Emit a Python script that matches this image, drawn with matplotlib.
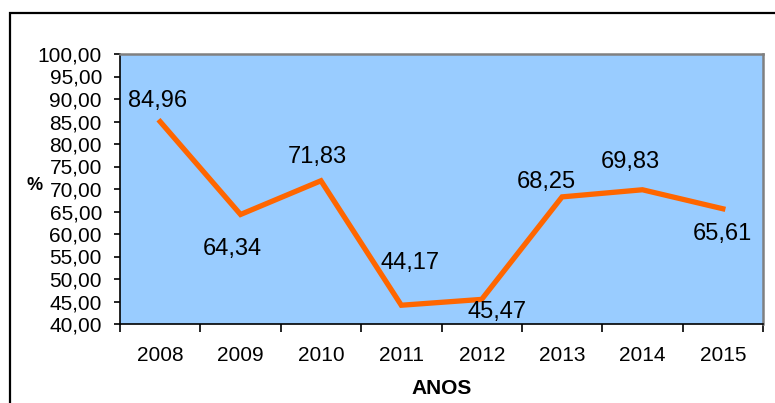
import matplotlib
matplotlib.use("Agg")
import matplotlib.pyplot as plt
from matplotlib.patches import Rectangle
from matplotlib.ticker import FuncFormatter, FixedLocator

plt.rcParams['font.family'] = ['Liberation Sans', 'DejaVu Sans']

# data
anos = ['2008', '2009', '2010', '2011', '2012', '2013', '2014', '2015']
valores = [84.96, 64.34, 71.83, 44.17, 45.47, 68.25, 69.83, 65.61]
yticks = list(range(40, 101, 5))

# label offsets in pixels (dx, dy), y up
offsets = [(-3, 21), (-8, -35), (-4, 24), (9, 42), (15, -13), (-16, 15), (-12, 28), (0, -25)]

fig = plt.figure(figsize=(7.75, 4.03), dpi=100)
ax = fig.add_axes([120/775, 1 - 324/403, 643/775, 270/403])
ax.set_facecolor('#99CCFF')

x = list(range(len(anos)))
ax.plot(x, valores, color='#FF6600', lw=3.8, solid_joinstyle='miter')

for xi, v, (dx, dy) in zip(x, valores, offsets):
    ax.annotate(f"{v:.2f}".replace('.', ','), (xi, v), xytext=(dx, dy),
                textcoords='offset pixels', ha='center', va='center',
                fontsize=17, color='black')

ax.set_xlim(-0.5, len(anos) - 0.5)
ax.set_ylim(40, 100)
ax.set_yticks(yticks)
ax.yaxis.set_major_formatter(FuncFormatter(lambda v, p: f"{v:.2f}".replace('.', ',')))
ax.tick_params(axis='y', direction='out', length=4.5, width=1.2, pad=8.5, labelsize=15)

ax.set_xticks(x)
ax.set_xticklabels(anos)
ax.xaxis.set_minor_locator(FixedLocator([i - 0.5 for i in range(len(anos) + 1)]))
ax.tick_params(axis='x', which='major', length=0, pad=16, labelsize=15)
ax.tick_params(axis='x', which='minor', direction='out', length=6, width=1.2)

for s in ('left', 'bottom'):
    ax.spines[s].set_color('black')
    ax.spines[s].set_linewidth(1.2)
for s in ('top', 'right'):
    ax.spines[s].set_color('#808080')
    ax.spines[s].set_linewidth(1.8)

ax.set_xlabel('ANOS', fontsize=15, fontweight='bold', labelpad=10)
fig.text(35/775, 1 - 185/403, '%', fontsize=13, fontweight='bold', ha='center', va='center')

# outer frame
fig.patches.append(Rectangle((10/775, -0.1), 1.0, 1.1 - 13/403, transform=fig.transFigure,
                             fill=False, edgecolor='black', lw=1.6, clip_on=False))

fig.savefig('out.png', dpi=100)
